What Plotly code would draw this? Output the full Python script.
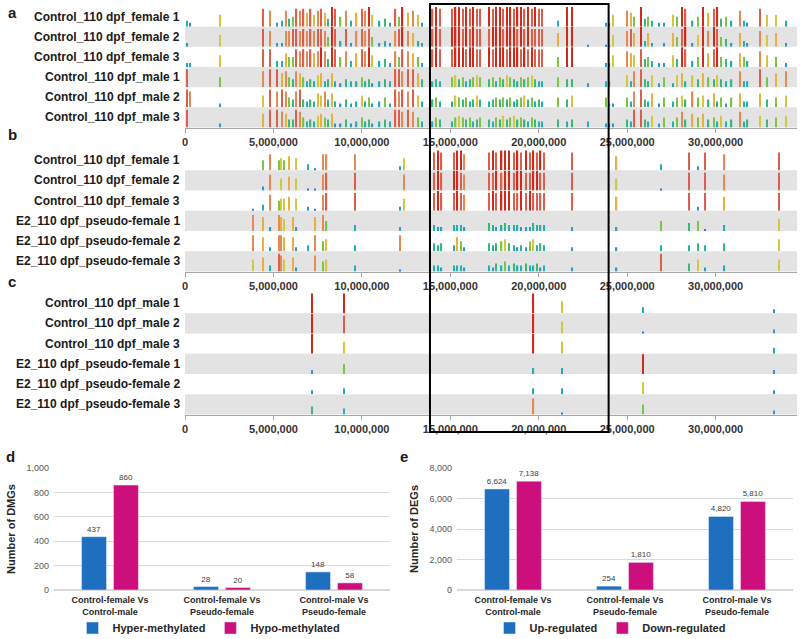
import plotly.graph_objects as go

W, H = 800, 639
FONT = "Liberation Sans"

# ---------------- track data (positions in Mb, values in tenths) ----------------
A_ROWS = ["Control_110 dpf_female 1", "Control_110 dpf_female 2", "Control_110 dpf_female 3",
          "Control_110 dpf_male 1", "Control_110 dpf_male 2", "Control_110 dpf_male 3"]
B_ROWS = ["Control_110 dpf_female 1", "Control_110 dpf_female 2", "Control_110 dpf_female 3",
          "E2_110 dpf_pseudo-female 1", "E2_110 dpf_pseudo-female 2", "E2_110 dpf_pseudo-female 3"]
C_ROWS = ["Control_110 dpf_male 1", "Control_110 dpf_male 2", "Control_110 dpf_male 3",
          "E2_110 dpf_pseudo-female 1", "E2_110 dpf_pseudo-female 2", "E2_110 dpf_pseudo-female 3"]

A_POS = [0.1, 0.3, 2.0,
         4.4, 4.8, 5.2, 5.5, 5.7, 5.9, 6.1, 6.3, 6.5, 6.7, 6.9, 7.1, 7.3, 7.5, 7.7, 7.9, 8.1, 8.3, 8.5,
         8.8, 9.1, 9.4, 9.7, 10.0, 10.2, 10.4, 10.6, 11.0, 11.3, 11.6, 11.9, 12.1, 12.3, 12.6, 12.9, 13.2, 13.4,
         14.0, 14.2, 14.4, 15.1, 15.3, 15.5, 15.7, 15.9, 16.1, 16.3, 16.5, 16.7, 17.2, 17.4, 17.6, 17.8,
         18.0, 18.2, 18.4, 18.6, 18.8, 19.0, 19.2, 19.4, 19.6, 19.8, 20.0, 20.2, 21.1, 21.6, 21.9, 22.8, 23.8,
         24.0, 24.2, 25.0, 25.2, 25.4, 25.8, 26.0, 26.2, 26.4, 26.8, 27.1, 27.6, 27.8, 28.1, 28.3, 28.7,
         29.0, 29.3, 29.6, 29.9, 30.1, 30.3, 30.6, 30.9, 31.4, 31.6, 31.8, 32.5, 32.9, 33.4, 34.0]

A_F1 = [3, 2, 6,
        9, 8, 2, 3, 8, 4, 5, 9, 8, 9, 7, 9, 6, 8, 9, 7, 4, 10, 9, 5, 8, 3, 7, 9, 8, 10, 6, 3, 4, 2, 9, 5, 10, 7, 8, 6, 2,
        9, 10, 9, 9, 10, 10, 9, 10, 9, 10, 9, 9, 10, 9, 10, 10, 9, 10, 10, 9, 10, 10, 9, 10, 9, 10, 9, 9, 3, 10, 10, 0, 2,
        2, 6, 8, 7, 5, 10, 4, 5, 3, 2, 2, 6, 5, 10, 9, 3, 5, 10, 7, 9, 10, 4, 5, 3, 8, 3, 2, 9, 6, 6, 3]
A_F2 = [2, 0, 6,
        9, 8, 2, 2, 8, 8, 9, 9, 8, 9, 8, 9, 8, 9, 9, 8, 5, 10, 9, 3, 9, 2, 8, 9, 8, 9, 5, 2, 3, 2, 8, 9, 10, 8, 7, 3, 2,
        9, 10, 9, 10, 10, 10, 9, 10, 9, 10, 9, 9, 9, 10, 10, 10, 9, 10, 10, 10, 9, 10, 9, 10, 9, 9, 9, 9, 7, 10, 10, 1, 1,
        1, 6, 8, 9, 7, 10, 3, 7, 2, 0, 2, 7, 5, 9, 10, 2, 6, 10, 8, 10, 9, 5, 4, 2, 7, 3, 2, 8, 6, 7, 2]
A_F3 = [2, 2, 6,
        9, 9, 3, 3, 7, 5, 5, 9, 8, 9, 8, 9, 7, 8, 10, 8, 4, 10, 9, 5, 8, 3, 7, 9, 8, 10, 6, 3, 4, 2, 8, 5, 9, 8, 7, 5, 2,
        9, 10, 9, 9, 10, 10, 10, 9, 10, 10, 9, 9, 10, 9, 10, 10, 10, 9, 10, 10, 10, 9, 10, 9, 10, 9, 9, 9, 5, 10, 10, 0, 2,
        2, 6, 8, 7, 6, 9, 4, 5, 3, 2, 2, 6, 4, 10, 9, 3, 5, 10, 7, 9, 10, 5, 4, 3, 7, 5, 3, 8, 6, 5, 2]
A_M1 = [9, 0, 5,
        8, 9, 9, 7, 8, 5, 4, 8, 7, 5, 3, 4, 3, 6, 7, 3, 4, 7, 3, 2, 4, 3, 3, 5, 3, 4, 2, 3, 4, 3, 9, 9, 8, 9, 9, 7, 4,
        3, 4, 3, 5, 6, 4, 5, 3, 4, 5, 6, 5, 4, 5, 3, 5, 4, 6, 5, 4, 3, 5, 4, 5, 6, 4, 3, 3, 5, 4, 4, 2, 3,
        3, 0, 6, 3, 8, 9, 4, 3, 6, 2, 5, 2, 6, 7, 3, 6, 4, 7, 5, 4, 6, 4, 3, 4, 8, 3, 3, 9, 5, 7, 8]
A_M2 = [9, 8, 2,
        6, 9, 8, 9, 8, 5, 4, 8, 9, 4, 3, 4, 3, 7, 6, 8, 4, 7, 3, 2, 4, 2, 3, 6, 3, 5, 2, 3, 5, 2, 9, 8, 9, 8, 9, 6, 3,
        4, 5, 3, 3, 6, 5, 4, 5, 3, 4, 6, 4, 3, 4, 5, 4, 5, 4, 5, 3, 4, 5, 6, 4, 5, 3, 4, 3, 5, 4, 6, 0, 5,
        2, 2, 5, 3, 8, 9, 4, 3, 7, 2, 5, 3, 5, 6, 4, 8, 5, 6, 4, 7, 3, 5, 2, 5, 7, 3, 3, 7, 4, 5, 6]
A_M3 = [9, 0, 2,
        7, 9, 9, 8, 7, 4, 4, 9, 8, 5, 3, 4, 3, 6, 7, 5, 4, 7, 2, 2, 4, 2, 3, 5, 3, 4, 2, 3, 4, 3, 9, 9, 8, 9, 8, 5, 3,
        3, 5, 4, 3, 5, 6, 5, 4, 5, 3, 4, 5, 4, 3, 5, 4, 6, 4, 5, 6, 4, 5, 4, 3, 5, 4, 3, 3, 4, 3, 4, 3, 2,
        2, 2, 4, 3, 9, 9, 4, 3, 6, 2, 5, 3, 5, 8, 4, 7, 5, 7, 4, 5, 3, 6, 3, 4, 8, 3, 4, 6, 4, 5, 6]

B_POS = [3.85, 4.43, 4.83, 5.3, 5.45, 5.6, 5.9, 6.1, 6.3, 6.95, 7.35, 7.8, 8.0, 9.6, 12.15, 12.4,
         14.1, 14.3, 14.5, 15.2, 15.4, 15.6, 15.8,
         17.2, 17.4, 17.6, 17.9, 18.1, 18.3, 18.6, 18.8, 19.0, 19.3, 19.5, 19.7, 19.9, 20.1, 20.3,
         21.9, 24.4, 26.9, 28.5, 29.0, 29.4, 30.5, 33.6]
B_F1 = [0, 5, 8, 5, 6, 5, 7, 0, 6, 3, 1, 8, 8, 8, 2, 6, 9, 10, 9, 9, 10, 10, 8,
        9, 10, 9, 10, 10, 10, 9, 10, 9, 10, 9, 10, 9, 10, 9, 9, 7, 3, 9, 2, 9, 8, 9]
B_F2 = [0, 2, 8, 0, 6, 0, 7, 0, 6, 1, 1, 8, 9, 9, 0, 8, 9, 10, 9, 10, 10, 9, 8,
        9, 9, 10, 9, 10, 10, 9, 10, 10, 9, 9, 10, 10, 9, 9, 9, 6, 1, 9, 0, 9, 8, 9]
B_F3 = [1, 3, 8, 5, 6, 6, 7, 0, 6, 2, 1, 8, 9, 9, 2, 6, 9, 10, 9, 9, 10, 9, 8,
        9, 10, 9, 10, 10, 10, 9, 9, 10, 9, 10, 9, 9, 9, 9, 9, 7, 0, 9, 2, 9, 7, 9]
B_P1 = [8, 7, 2, 8, 7, 6, 0, 7, 2, 0, 7, 8, 5, 3, 2, 0, 3, 2, 2, 3, 3, 3, 2,
        4, 3, 2, 3, 4, 3, 3, 3, 2, 2, 2, 4, 3, 3, 3, 2, 2, 5, 4, 5, 1, 3, 6]
B_P2 = [8, 7, 2, 8, 8, 7, 0, 7, 2, 3, 8, 5, 6, 3, 8, 0, 4, 3, 4, 3, 7, 5, 2,
        4, 3, 4, 5, 6, 4, 3, 2, 3, 2, 5, 6, 3, 4, 3, 2, 2, 3, 3, 4, 3, 4, 6]
B_P3 = [6, 7, 3, 9, 8, 6, 0, 7, 2, 0, 8, 5, 6, 3, 1, 0, 3, 3, 2, 3, 3, 3, 2,
        3, 2, 4, 3, 5, 3, 4, 3, 3, 4, 3, 3, 4, 2, 3, 2, 2, 9, 4, 6, 2, 3, 6]

C_POS = [7.2, 9.0, 19.7, 21.3, 25.9, 33.3]
C_M1 = [10, 10, 10, 6, 3, 2]
C_M2 = [10, 9, 10, 6, 1, 2]
C_M3 = [10, 6, 10, 6, 0, 3]
C_P1 = [2, 5, 3, 3, 10, 2]
C_P2 = [2, 3, 3, 3, 6, 2]
C_P3 = [4, 3, 8, 1, 5, 2]

TRACK_TICKS = [0, 5000000, 10000000, 15000000, 20000000, 25000000, 30000000]
TRACK_RANGE = [0, 34600000]
BOX_START, BOX_END = 13850000, 23950000

# ---------------- bar chart data ----------------
CATEGORIES = ["Control-female Vs<br>Control-male", "Control-female Vs<br>Pseudo-female",
              "Control-male Vs<br>Pseudo-female"]
HYPER = [437, 28, 148]
HYPO = [860, 20, 58]
UP = [6624, 254, 4820]
DOWN = [7138, 1810, 5810]

BLUE = "#1f6fc0"
PINK = "#cc0f7c"
CS = [[0.0, '#2f5fbf'], [0.15, '#2f8fd0'], [0.3, '#25b0b0'], [0.42, '#3dba6e'], [0.52, '#8cc63f'],
      [0.6, '#d4c73e'], [0.7, '#e9b040'], [0.8, '#e58a55'], [0.88, '#e06a55'], [1.0, '#cf2a1c']]


def py(px):
    return 1 - px / H


def pxx(px):
    return px / W


fig = go.Figure()
layout = dict(width=W, height=H, margin=dict(l=0, r=0, t=0, b=0, autoexpand=False),
              paper_bgcolor="white", plot_bgcolor="white",
              font=dict(family=FONT, color="#262626"),
              bargap=0.43, bargroupgap=0.22, shapes=[], annotations=[])

panels = [
    (A_ROWS, A_POS, [A_F1, A_F2, A_F3, A_M1, A_M2, A_M3], 6.5, 127.5),
    (B_ROWS, B_POS, [B_F1, B_F2, B_F3, B_P1, B_P2, B_P3], 150.0, 271.5),
    (C_ROWS, C_POS, [C_M1, C_M2, C_M3, C_P1, C_P2, C_P3], 293.0, 414.5),
]
TX0, TX1 = 185, 797
yi = 0
for pi, (rows, pos, vals, top, bot) in enumerate(panels):
    xname = "x" if pi == 0 else f"x{pi + 1}"
    xkey = "xaxis" if pi == 0 else f"xaxis{pi + 1}"
    rh = (bot - top) / 6
    bottom_y = None
    for r in range(6):
        yi += 1
        yname = "y" if yi == 1 else f"y{yi}"
        ykey = "yaxis" if yi == 1 else f"yaxis{yi}"
        r_top = top + r * rh
        r_bot = top + (r + 1) * rh
        xs = [p * 1e6 for p, v in zip(pos, vals[r]) if v > 0]
        ys = [v / 10 for v in vals[r] if v > 0]
        fig.add_trace(go.Bar(x=xs, y=ys, width=75000, xaxis=xname, yaxis=yname,
                             marker=dict(color=ys, colorscale=CS, cmin=0, cmax=1, line_width=0),
                             showlegend=False, hoverinfo="skip"))
        layout[ykey] = dict(domain=[py(r_bot), py(r_top)], range=[0, 1.02], visible=False,
                            anchor=xname, fixedrange=True)
        if r % 2 == 1:
            layout["shapes"].append(dict(type="rect", xref="paper", yref="paper",
                                         x0=pxx(TX0), x1=pxx(TX1), y0=py(r_bot), y1=py(r_top),
                                         fillcolor="#e3e3e3", line_width=0, layer="below"))
        layout["annotations"].append(dict(text=f"<b>{rows[r]}</b>", xref="paper", yref="paper",
                                          x=pxx(182), y=py((r_top + r_bot) / 2), xanchor="right",
                                          yanchor="middle", showarrow=False,
                                          font=dict(size=12, color="#1a1a1a", family=FONT)))
        bottom_y = yname
    layout[xkey] = dict(domain=[pxx(TX0), pxx(TX1)], range=TRACK_RANGE, anchor=bottom_y,
                        tickvals=TRACK_TICKS, tickformat=",d", ticks="outside", ticklen=4,
                        tickcolor="#a6a6a6", showline=True, linecolor="#a6a6a6", linewidth=1,
                        showgrid=False, zeroline=False,
                        tickfont=dict(size=11, color="#333333", family=FONT, weight="bold"))

# black highlight box
layout["shapes"].append(dict(type="rect", xref="x", yref="paper", x0=BOX_START, x1=BOX_END,
                             y0=py(432), y1=py(4), line=dict(color="black", width=2),
                             fillcolor="rgba(0,0,0,0)", layer="above"))

# ---------------- bar charts d and e ----------------
tf = dict(size=8, color="#404040", family=FONT)
fig.add_trace(go.Bar(x=CATEGORIES, y=HYPER, name="Hyper-methylated", marker_color=BLUE,
                     xaxis="x4", yaxis="y19", text=HYPER, texttemplate="%{y:,}",
                     textposition="outside", textfont=tf, cliponaxis=False, legend="legend"))
fig.add_trace(go.Bar(x=CATEGORIES, y=HYPO, name="Hypo-methylated", marker_color=PINK,
                     xaxis="x4", yaxis="y19", text=HYPO, texttemplate="%{y:,}",
                     textposition="outside", textfont=tf, cliponaxis=False, legend="legend"))
fig.add_trace(go.Bar(x=CATEGORIES, y=UP, name="Up-regulated", marker_color=BLUE,
                     xaxis="x5", yaxis="y20", text=UP, texttemplate="%{y:,}",
                     textposition="outside", textfont=tf, cliponaxis=False, legend="legend2"))
fig.add_trace(go.Bar(x=CATEGORIES, y=DOWN, name="Down-regulated", marker_color=PINK,
                     xaxis="x5", yaxis="y20", text=DOWN, texttemplate="%{y:,}",
                     textposition="outside", textfont=tf, cliponaxis=False, legend="legend2"))

cat_font = dict(size=9, color="#262626", family=FONT, weight="bold")
for xk, yk, ya, dom, rng, dt, title in [("xaxis4", "yaxis19", "y19", [54, 390], [0, 1000], 200, "Number of DMGs"),
                                         ("xaxis5", "yaxis20", "y20", [457, 793], [0, 8000], 2000, "Number of DEGs")]:
    layout[xk] = dict(domain=[pxx(dom[0]), pxx(dom[1])], anchor=ya, type="category",
                      showgrid=False, showline=False, ticks="", tickfont=cat_font, ticklabelstandoff=3)
    layout[yk] = dict(domain=[py(590), py(468)], range=rng, dtick=dt, tickformat=",",
                      showgrid=True, gridcolor="#d9d9d9", zeroline=True, zerolinecolor="#d9d9d9",
                      showline=False, tickfont=dict(size=9, color="#595959", family=FONT),
                      ticklabelstandoff=4,
                      anchor=xk.replace("axis", ""),
                      title=dict(text=f"<b>{title}</b>", font=dict(size=11, color="#262626", family=FONT),
                                 standoff=8))

leg_font = dict(size=11, color="#262626", family=FONT, weight="bold")
layout["legend"] = dict(orientation="h", x=pxx(209), xanchor="center", y=py(628), yanchor="middle",
                        font=leg_font, bgcolor="rgba(0,0,0,0)", itemwidth=30)
layout["legend2"] = dict(orientation="h", x=pxx(610), xanchor="center", y=py(628), yanchor="middle",
                         font=leg_font, bgcolor="rgba(0,0,0,0)", itemwidth=30)

for letter, lx, ly in [("a", 12, 12), ("b", 12, 135), ("c", 12, 281), ("d", 10, 456), ("e", 404, 456)]:
    layout["annotations"].append(dict(text=f"<b>{letter}</b>", xref="paper", yref="paper",
                                      x=pxx(lx), y=py(ly), xanchor="center", yanchor="middle",
                                      showarrow=False, font=dict(size=15, color="#1a1a1a", family=FONT)))

fig.update_layout(**layout)
fig.write_html("out.html", config={"displayModeBar": False},
               post_script="document.body.style.margin='0px';document.body.style.overflow='hidden';")
